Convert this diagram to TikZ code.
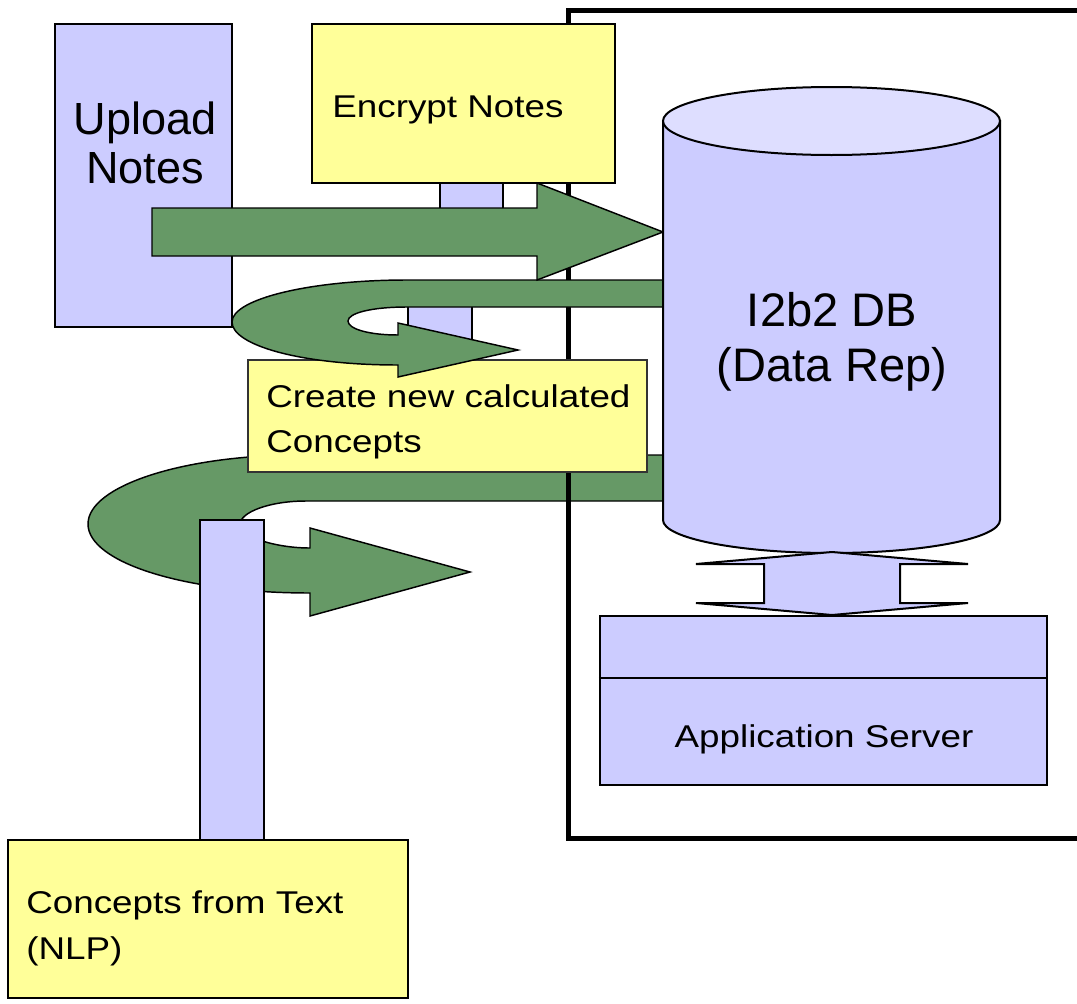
\documentclass[tikz,border=0pt]{standalone}
\usepackage{fontspec}
\setmainfont{Liberation Sans}
\newfontfamily\widesans[FakeStretch=1.17]{Liberation Sans}
\usetikzlibrary{fit}
\definecolor{lav}{HTML}{CCCCFF}
\definecolor{lavtop}{HTML}{DEDEFF}
\definecolor{yel}{HTML}{FFFF99}
\definecolor{grn}{HTML}{669966}
\begin{document}
\begin{tikzpicture}[x=0.75pt,y=-0.75pt,
  box/.style={draw=black, line width=1.8pt, inner sep=0pt},
  lavbox/.style={box, fill=lav},
  yelbox/.style={box, fill=yel},
  blockarrow/.style={draw=black, fill=grn, line width=1.1pt, line join=miter},
  small/.style={font=\widesans\fontsize{23.6}{28}\selectfont, inner sep=0pt},
  big/.style={font=\fontsize{33.8}{38}\selectfont, inner sep=0pt},
  dbfont/.style={font=\fontsize{35.3}{41}\selectfont, inner sep=0pt}]
\useasboundingbox[fill=white] (0,0) rectangle (1077,1003);

% lower U-turn arrow (under the frame)
\path[blockarrow] (663,455) -- (300,455)
  .. controls (183,455) and (88,486) .. (88,524)
  .. controls (88,562) and (183,593) .. (310,593)
  -- (310,616) -- (470,572) -- (310,528) -- (310,548)
  .. controls (276,548) and (240,537) .. (240,524.5)
  .. controls (240,512) and (270,501) .. (306,501)
  -- (663,501) -- cycle;

% frame
\draw[line width=3.75pt] (1095,10) -- (568,10) -- (568,838) -- (1095,838);

% bar from NLP box
\node[lavbox, fit={(200,520) (264,840)}] (nlpbar) {};

% Upload box
\node[lavbox, fit={(55,24) (232,327)}] (upload) {};
\node[big, anchor=base] (uploadL1) at (145,134) {Upload};
\node[big, anchor=base] (uploadL2) at (145,183) {Notes};

% Encrypt box
\node[yelbox, fit={(312,24) (615,183)}] (encrypt) {};
\node[small, anchor=base] (encL) at (448,117) {Encrypt Notes};

% small bars
\node[lavbox, fit={(440,183) (503,232)}] (barA) {};
\node[lavbox, fit={(408,300) (472,362)}] (barB) {};

% Create box
\node[box, fill=yel, draw=black!80, line width=1.2pt, fit={(248,360) (647,472)}] (create) {};
\node[small, anchor=base west] (createL1) at (266,407) {Create new calculated};
\node[small, anchor=base west] (createL2) at (266,452) {Concepts};

% upper U-turn arrow
\path[blockarrow] (663,280) -- (407,280)
  .. controls (310,280) and (232,299) .. (232,322)
  .. controls (232,345) and (300,365) .. (398,365)
  -- (398,377) -- (518,350) -- (398,323) -- (398,335)
  .. controls (369,335) and (348,329) .. (348,321)
  .. controls (348,313) and (372,307) .. (407,307)
  -- (663,307) -- cycle;

% big straight arrow
\path[blockarrow] (152,208) -- (537,208) -- (537,183) -- (663,232)
  -- (537,280) -- (537,256) -- (152,256) -- cycle;

% database cylinder
\path[draw=black, fill=lav, line width=1.5pt] (663,121) -- (663,520)
  .. controls (663,538.2) and (738.4,553) .. (831.5,553)
  .. controls (924.6,553) and (1000,538.2) .. (1000,520)
  -- (1000,121) -- cycle;
\path[draw=black, fill=lavtop, line width=1.5pt] (663,121)
  .. controls (663,102.2) and (738.4,87) .. (831.5,87)
  .. controls (924.6,87) and (1000,102.2) .. (1000,121)
  .. controls (1000,139.8) and (924.6,155) .. (831.5,155)
  .. controls (738.4,155) and (663,139.8) .. (663,121) -- cycle;
\node[dbfont, anchor=base] (dbL1) at (832,326) {I2b2 DB};
\node[dbfont, anchor=base] (dbL2) at (832,381) {(Data Rep)};

% double arrow DB <-> application server
\path[draw=black, fill=lav, line width=1.5pt] (832,552) -- (968,564) -- (900,564)
  -- (900,603) -- (968,603) -- (832,615) -- (696,603) -- (764,603)
  -- (764,564) -- (696,564) -- cycle;

% application server
\node[lavbox, fit={(600,616) (1047,785)}] (app) {};
\draw[line width=1.8pt] (app.west |- 0,678) -- (app.east |- 0,678);
\node[small, anchor=base] (appL) at (824,747) {Application Server};

% NLP box
\node[yelbox, fit={(8,840) (408,998)}] (nlp) {};
\node[small, anchor=base west] (nlpL1) at (26,913) {Concepts from Text};
\node[small, anchor=base west] (nlpL2) at (26,959) {(NLP)};
\end{tikzpicture}
\end{document}
